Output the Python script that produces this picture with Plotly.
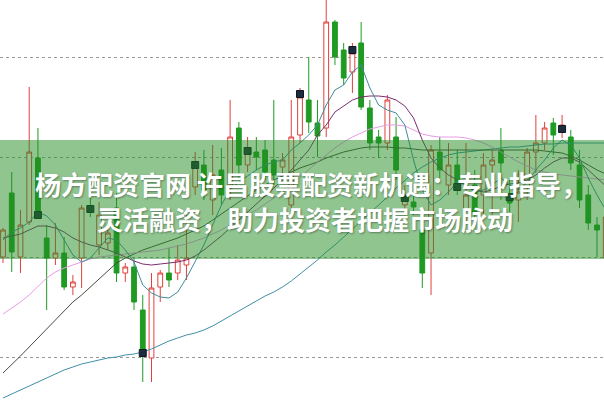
import plotly.graph_objects as go

# ---- candle data (price units) ----
idx = list(range(70))
opens  = [10.00,10.64,10.00,10.35,10.99,10.19, 9.99,10.04, 9.70, 9.99,
          10.51,10.12,10.14,10.49, 9.84, 9.90, 9.47, 8.99, 9.70, 9.84,
           9.84, 9.92,10.70,10.92,10.57,10.87,10.72,11.29,10.92,11.05,
          11.07,10.97,10.90,10.52,11.22,11.57,11.34,11.29,12.35,12.07,
          11.85,12.14,11.49,11.20,11.14,11.20,10.52,10.55,10.27,10.04,
          11.05,10.72,10.92,10.42,10.72,10.62,10.92,11.07,10.62,10.57,
          10.70,11.05,11.14,11.34,11.25,11.20,10.92,10.62,10.32, 9.99]
closes = [10.27,10.05,10.32,11.05,10.44, 9.99,10.04, 9.70, 9.75,10.49,
          10.45,10.42,10.24, 9.84, 9.90, 9.55, 9.05, 9.69, 9.84, 9.77,
           9.97, 9.99,10.95,10.67,10.82,10.62,11.20,10.92,11.09,11.00,
          10.85,10.82,10.97,11.20,11.60,11.35,11.21,12.35,12.00,11.79,
          12.04,11.50,11.14,11.14,11.57,10.87,10.62,10.50, 9.84,11.07,
          10.87,10.92,10.72,10.62,10.45,10.92,10.97,10.94,10.54,10.65,
          11.05,11.14,11.29,11.22,11.32,10.94,10.57,10.34,10.27,10.40]
highs  = [10.29,10.85,10.47,11.70,11.29,10.32,10.34,10.20, 9.82,10.52,
          10.62,10.55,10.29,10.64, 9.94, 9.99, 9.62, 9.84, 9.87,10.09,
          10.12,10.42,11.05,11.07,11.12,11.09,11.57,11.35,11.20,11.20,
          11.17,11.57,11.04,11.57,11.69,12.00,11.57,12.60,12.37,12.14,
          12.14,12.35,11.57,11.27,11.62,11.40,10.72,10.62,10.32,11.12,
          11.20,11.14,11.07,11.14,10.87,11.04,11.07,11.29,10.77,10.87,
          11.09,11.42,11.35,11.39,11.42,11.27,11.07,10.72,10.40,10.47]
lows   = [ 9.94, 9.85, 9.84,10.32,10.39, 9.47, 9.92, 9.67, 9.62, 9.69,
          10.40,10.02,10.07, 9.75, 9.75, 9.47, 8.75, 8.75, 9.55, 9.70,
           9.77, 9.77,10.62,10.57,10.42,10.52,10.57,10.77,10.85,10.87,
          10.77,10.72,10.82,10.45,11.14,11.24,11.00,11.20,11.92,11.72,
          11.64,11.47,11.07,10.99,11.07,10.77,10.42,10.42, 9.69, 9.62,
          10.79,10.62,10.62,10.35,10.35,10.42,10.42,10.57,10.45,10.35,
          10.57,10.84,11.07,11.02,11.19,10.87,10.49,10.27,10.00, 9.92]

# ---- moving-average lines ----
ma_short = [10.17,10.25,10.29,10.35,10.45,10.41,10.32,10.17,10.02, 9.95,
             9.99,10.09,10.19,10.17,10.07, 9.95, 9.72, 9.64, 9.60, 9.59,
             9.65, 9.79, 9.95,10.12,10.32,10.52,10.67,10.75,10.81,10.87,
            10.92,10.95,10.97,11.07,11.14,11.22,11.32,11.52,11.67,11.72,
            11.85,11.92,11.69,11.52,11.47,11.44,11.32,10.97,10.67,10.52,
            10.57,10.65,10.75,10.72,10.65,10.67,10.72,10.79,10.72,10.67,
            10.75,10.87,10.97,11.09,11.17,11.12,10.99,10.79,10.62,10.47]
ma_purple = [10.19,10.21,10.23,10.27,10.31,10.31,10.29,10.25,10.19,10.15,
             10.12,10.10,10.07,10.04,10.00, 9.96, 9.93, 9.92, 9.93, 9.94,
              9.95, 9.97,10.01,10.07,10.14,10.21,10.29,10.37,10.45,10.52,
             10.60,10.69,10.77,10.87,10.97,11.07,11.22,11.32,11.45,11.51,
             11.57,11.60,11.61,11.61,11.60,11.57,11.51,11.39,11.17,10.99,
             10.89,10.82,10.77,10.72,10.67,10.65,10.67,10.71,10.73,10.74,
             10.77,10.82,10.89,10.95,10.99,10.99,10.95,10.87,10.79,10.71]
ma_pink = [ 9.43, 9.49, 9.55, 9.62, 9.70, 9.79, 9.85, 9.89, 9.92, 9.95,
            9.98,10.00,10.01,10.02,10.03,10.04,10.05,10.06,10.07,10.09,
           10.11,10.13,10.16,10.19,10.23,10.27,10.32,10.37,10.42,10.47,
           10.53,10.59,10.65,10.72,10.80,10.87,10.95,11.02,11.09,11.15,
           11.20,11.24,11.28,11.30,11.32,11.32,11.31,11.27,11.23,11.21,
           11.20,11.20,11.20,11.19,11.17,11.14,11.10,11.05,11.00,10.95,
           10.91,10.87,10.85,10.83,10.82,10.81,10.80,10.79,10.78,10.77]
ma_dark = [ 8.84, 8.92, 9.01, 9.10, 9.19, 9.28, 9.37, 9.46, 9.55, 9.62,
            9.70, 9.78, 9.87, 9.94, 9.99,10.03,10.07,10.10,10.13,10.16,
           10.19,10.23,10.27,10.31,10.37,10.43,10.49,10.55,10.61,10.67,
           10.72,10.77,10.81,10.85,10.89,10.92,10.95,10.99,11.02,11.05,
           11.07,11.09,11.10,11.10,11.10,11.09,11.09,11.08,11.07,11.07,
           11.07,11.07,11.07,11.07,11.07,11.07,11.07,11.07,11.07,11.07,
           11.07,11.07,11.06,11.05,11.04,11.01,10.97,10.92,10.87,10.83]
ma_long = [ 8.59, 8.63, 8.67, 8.71, 8.75, 8.79, 8.83, 8.87, 8.90, 8.93,
            8.95, 8.97, 8.99, 9.00, 9.02, 9.03, 9.05, 9.08, 9.12, 9.16,
            9.19, 9.22, 9.24, 9.27, 9.31, 9.36, 9.41, 9.46, 9.51, 9.56,
            9.61, 9.65, 9.70, 9.76, 9.83, 9.90, 9.97,10.05,10.12,10.20,
           10.28,10.35,10.43,10.52,10.60,10.69,10.77,10.84,10.90,10.95,
           10.99,11.02,11.04,11.05,11.06,11.07,11.08,11.09,11.10,11.10,
           11.11,11.12,11.13,11.13,11.14,11.14,11.14,11.14,11.14,11.14]

# ---- periodic dark markers ----
mark_idx = [4, 10, 16, 22, 28, 34, 40, 46, 52, 58, 64]
mark_val = [10.42, 10.48, 9.04, 10.92, 11.06, 11.63, 12.07, 10.59, 10.70, 10.60, 11.28]

grid_vals = [12, 11, 10, 9]
line1 = "杨方配资官网 许昌股票配资新机遇：专业指导，"
line2 = "灵活融资，助力投资者把握市场脉动"

fig = go.Figure()

def add_line(vals, color, width=1):
    fig.add_trace(go.Scatter(x=idx, y=vals, mode="lines",
                             line=dict(color=color, width=width),
                             hoverinfo="skip", showlegend=False))

add_line(ma_long, "#3f8fa8")
add_line(ma_dark, "#4b4b3f")
add_line(ma_pink, "#e79be6")
add_line(ma_purple, "#7b2e6e")
add_line(ma_short, "#3f8c9c")

fig.add_trace(go.Candlestick(
    x=idx, open=opens, high=highs, low=lows, close=closes,
    increasing=dict(line=dict(color="#e0413c", width=1), fillcolor="#ffffff"),
    decreasing=dict(line=dict(color="#1f9a22", width=1), fillcolor="#1f9a22"),
    whiskerwidth=0, showlegend=False, hoverinfo="skip"))

fig.add_trace(go.Scatter(
    x=mark_idx, y=mark_val, mode="markers",
    marker=dict(symbol="square", size=7, color="#1d2c3c",
                line=dict(color="#0c1722", width=1)),
    hoverinfo="skip", showlegend=False))

# translucent green banner
fig.add_shape(type="rect", xref="paper", yref="paper",
              x0=0, x1=1, y0=1 - 259 / 401, y1=1 - 140 / 401,
              fillcolor="rgba(34,139,34,0.5)", line=dict(width=0), layer="above")

font = dict(family="Noto Sans CJK SC", size=26, color="#ffffff", weight=700,
            shadow="1px 1px 2px rgba(0,0,0,0.35)")
fig.add_annotation(text=line1, xref="paper", yref="paper",
                   x=33 / 604, y=1 - 183 / 401, xanchor="left", yanchor="middle",
                   showarrow=False, font=font)
fig.add_annotation(text=line2, xref="paper", yref="paper",
                   x=95 / 604, y=1 - 218 / 401, xanchor="left", yanchor="middle",
                   showarrow=False, font=font)

fig.update_layout(
    width=604, height=401,
    margin=dict(l=0, r=0, t=0, b=0),
    paper_bgcolor="#ffffff", plot_bgcolor="#ffffff",
    showlegend=False,
    boxgap=0.22,
    xaxis=dict(range=[-0.343, 68.8], visible=False, rangeslider=dict(visible=False),
               fixedrange=True),
    yaxis=dict(range=[8.56, 12.57], tickvals=grid_vals, showticklabels=False,
               showgrid=True, gridcolor="#9a9a9a", griddash="dot", gridwidth=1,
               zeroline=False, showline=False, fixedrange=True),
)

fig.write_html("out.html", config={"displayModeBar": False},
               post_script="document.body.style.margin='0';document.body.style.overflow='hidden';")
